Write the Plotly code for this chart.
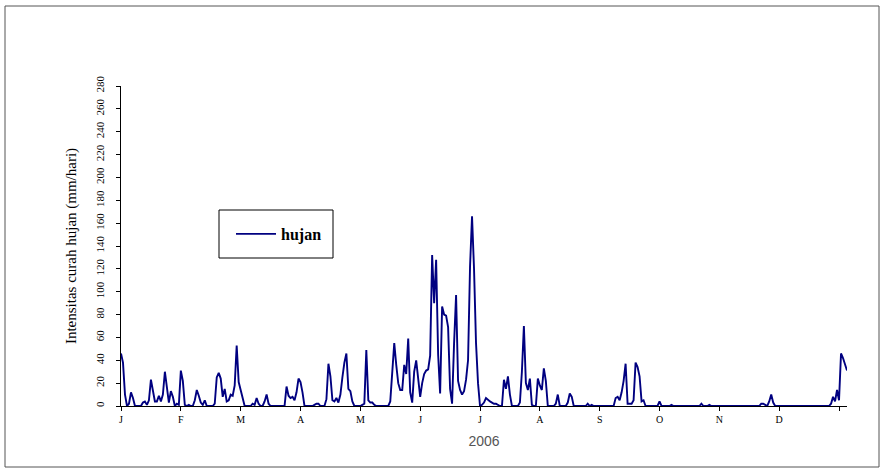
import plotly.graph_objects as go

# Daily rainfall 2006 (mm/hari), one list per calendar month
jan = [46, 38, 10, 0, 2, 12, 7, 0, 0, 0, 0, 3, 4, 1, 5, 23, 12, 4, 4, 9, 4, 10, 30, 17, 3, 13, 8, 0, 2, 1, 31]
feb = [22, 1, 0, 1, 0, 0, 5, 14, 9, 3, 1, 5, 0, 0, 0, 0, 2, 25, 29, 24, 8, 15, 4, 5, 10, 9, 18, 53]
mar = [21, 14, 7, 0, 0, 0, 0, 2, 1, 7, 2, 0, 0, 4, 10, 2, 0, 0, 0, 0, 0, 0, 0, 0, 17, 9, 7, 8, 5, 12, 24]
apr = [21, 12, 0, 0, 0, 0, 0, 1, 2, 2, 0, 0, 0, 6, 37, 26, 5, 4, 7, 3, 10, 25, 38, 46, 15, 13, 4, 0, 0, 0]
may = [0, 1, 2, 49, 5, 3, 3, 1, 0, 0, 0, 0, 0, 0, 0, 4, 30, 55, 36, 20, 14, 14, 36, 28, 59, 12, 3, 30, 40, 25, 8]
jun = [20, 28, 31, 32, 44, 132, 90, 128, 45, 11, 87, 80, 79, 69, 15, 2, 55, 97, 22, 14, 10, 13, 23, 40, 122, 166, 120, 55, 20, 0]
jul = [1, 3, 7, 5, 4, 3, 2, 2, 1, 0, 0, 23, 15, 26, 10, 0, 0, 0, 0, 3, 30, 70, 20, 14, 24, 1, 0, 0, 24, 18, 14]
aug = [33, 22, 0, 0, 0, 0, 2, 10, 0, 0, 0, 0, 3, 11, 8, 0, 0, 0, 0, 0, 0, 0, 2, 0, 1, 0, 0, 0, 0, 0, 0]
sep = [0, 0, 0, 0, 0, 7, 8, 5, 12, 22, 37, 2, 2, 2, 5, 38, 34, 26, 4, 5, 0, 0, 0, 0, 0, 0, 0, 4, 0, 0]
okt = [0, 0, 0, 1, 0, 0, 0, 0, 0, 0, 0, 0, 0, 0, 0, 0, 0, 0, 2, 0, 0, 0, 1, 0, 0, 0, 0, 0, 0, 0, 0]
nov = [0, 0, 0, 0, 0, 0, 0, 0, 0, 0, 0, 0, 0, 0, 0, 0, 0, 2, 2, 1, 0, 4, 10, 3, 0, 0, 0, 0, 0, 0]
des = [0, 0, 0, 0, 0, 0, 0, 0, 0, 0, 0, 0, 0, 0, 0, 0, 0, 0, 0, 0, 0, 0, 2, 8, 4, 14, 5, 46, 42, 37, 31]

hujan = jan + feb + mar + apr + may + jun + jul + aug + sep + okt + nov + des
days = list(range(len(hujan)))

tick_days = [0, 30, 60, 90, 120, 150, 180, 210, 240, 270, 300, 330, 360]
tick_labels = ["J", "F", "M", "A", "M", "J", "J", "A", "S", "O", "N", "D", ""]
y_ticks = list(range(0, 281, 20))

W, H = 881, 472
L, R, T, B = 121, 34, 86, 66
pw, ph = W - L - R, H - T - B

def px(x):
    return (x - L) / pw

def py(y):
    return (H - B - y) / ph

serif = "Liberation Serif, Times New Roman, serif"

fig = go.Figure()
fig.add_trace(go.Scatter(
    x=days, y=hujan, mode="lines", name="hujan",
    line=dict(color="#000080", width=1.9),
))

fig.update_layout(
    width=W, height=H,
    margin=dict(l=L, r=R, t=T, b=B, autoexpand=False),
    paper_bgcolor="white", plot_bgcolor="white",
    showlegend=True,
    legend=dict(
        x=px(231), y=py(234), xanchor="left", yanchor="middle",
        bgcolor="rgba(0,0,0,0)", borderwidth=0, itemwidth=40,
        font=dict(family=serif, size=16, color="black", weight="bold"),
    ),
    xaxis=dict(
        range=[0, 364], tickmode="array", tickvals=tick_days, ticktext=tick_labels,
        showgrid=False, zeroline=False, showline=True, linecolor="black", linewidth=1,
        ticks="outside", ticklen=4, tickcolor="black",
        tickfont=dict(family=serif, size=10, color="black"),
        title=dict(text="2006", font=dict(family="Liberation Sans, Arial, sans-serif", size=14, color="#555555"), standoff=12),
    ),
    yaxis=dict(
        range=[0, 280], tickmode="array", tickvals=y_ticks,
        showgrid=False, zeroline=False, showline=True, linecolor="black", linewidth=1,
        ticks="outside", ticklen=4, tickcolor="black", tickangle=-90,
        ticklabelstandoff=8,
        tickfont=dict(family=serif, size=11, color="black"),
        title=dict(text="Intensitas curah hujan (mm/hari)", font=dict(family=serif, size=15, color="black"), standoff=13),
    ),
    shapes=[
        dict(type="rect", xref="paper", yref="paper",
             x0=px(219), x1=px(333), y0=py(258), y1=py(210),
             line=dict(color="black", width=1), fillcolor="rgba(0,0,0,0)"),
        dict(type="rect", xref="paper", yref="paper",
             x0=px(5), x1=px(879), y0=py(467), y1=py(6),
             line=dict(color="#555555", width=1), fillcolor="rgba(0,0,0,0)"),
    ],
)

fig.write_html(
    "out.html",
    config={"displayModeBar": False},
    post_script="document.body.style.margin='0';document.body.style.overflow='hidden';",
)
